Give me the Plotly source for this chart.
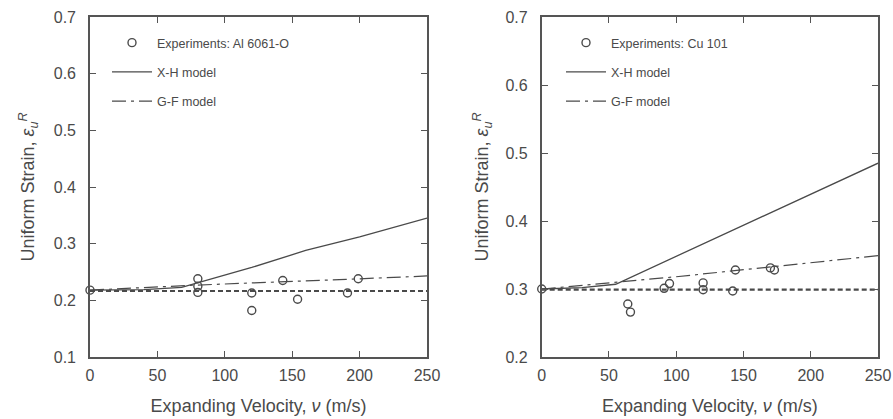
import plotly.graph_objects as go

# ---------------- data ----------------
# Left panel: Al 6061-O
al_exp_v = [0, 80, 80, 80, 120, 120, 143, 154, 191, 199]
al_exp_e = [0.218, 0.238, 0.225, 0.214, 0.213, 0.182, 0.235, 0.202, 0.213, 0.238]
al_xh_v = [0, 40, 68, 80, 120, 160, 200, 250]
al_xh_e = [0.218, 0.219, 0.223, 0.231, 0.258, 0.288, 0.312, 0.345]
al_gf_v = [0, 80, 190, 250]
al_gf_e = [0.218, 0.227, 0.237, 0.243]
al_static_v = [0, 250]
al_static_e = [0.2165, 0.2165]

# Right panel: Cu 101
cu_exp_v = [0, 64, 66, 91, 95, 120, 120, 142, 144, 170, 173]
cu_exp_e = [0.300, 0.278, 0.266, 0.301, 0.308, 0.309, 0.299, 0.297, 0.328, 0.331, 0.328]
cu_xh_v = [0, 30, 55, 100, 160, 250]
cu_xh_e = [0.300, 0.302, 0.307, 0.348, 0.403, 0.485]
cu_gf_v = [0, 100, 250]
cu_gf_e = [0.300, 0.318, 0.349]
cu_static_v = [0, 250]
cu_static_e = [0.299, 0.299]

x_ticks = [0, 50, 100, 150, 200, 250]

INK = "#4a4a4a"
FONT = "Liberation Sans, Arial, sans-serif"

fig = go.Figure()

def add_panel(xa, ya, leg, exp_v, exp_e, exp_name, xh_v, xh_e, gf_v, gf_e, st_v, st_e):
    fig.add_trace(go.Scatter(x=st_v, y=st_e, mode="lines", xaxis=xa, yaxis=ya,
                             line=dict(color=INK, width=2.2, dash="5px,3px"),
                             showlegend=False, hoverinfo="skip"))
    fig.add_trace(go.Scatter(x=gf_v, y=gf_e, mode="lines", xaxis=xa, yaxis=ya,
                             line=dict(color=INK, width=1.2, dash="14px,5px,3px,5px"),
                             name="G-F model", legend=leg, legendgroup=leg + "c",
                             legendrank=3))
    fig.add_trace(go.Scatter(x=xh_v, y=xh_e, mode="lines", xaxis=xa, yaxis=ya,
                             line=dict(color=INK, width=1.3),
                             name="X-H model", legend=leg, legendgroup=leg + "b",
                             legendrank=2))
    fig.add_trace(go.Scatter(x=exp_v, y=exp_e, mode="markers", xaxis=xa, yaxis=ya,
                             marker=dict(symbol="circle-open", size=8, color=INK,
                                         line=dict(width=1.4, color=INK)),
                             cliponaxis=False,
                             name="Experiments: " + exp_name, legend=leg,
                             legendgroup=leg + "a", legendrank=1))

add_panel("x", "y", "legend", al_exp_v, al_exp_e, "Al 6061-O",
          al_xh_v, al_xh_e, al_gf_v, al_gf_e, al_static_v, al_static_e)
add_panel("x2", "y2", "legend2", cu_exp_v, cu_exp_e, "Cu 101",
          cu_xh_v, cu_xh_e, cu_gf_v, cu_gf_e, cu_static_v, cu_static_e)

W, H = 893, 419
ytop = 1 - 17 / H
ybot = 1 - 357 / H

axis_common = dict(
    showgrid=False, zeroline=False, showline=True, linecolor="#555", linewidth=1.6,
    mirror="ticks", ticks="inside", ticklen=6, tickwidth=1.3, tickcolor="#555",
    tickfont=dict(family=FONT, size=16, color=INK), automargin=False,
)

ytitle = "Uniform Strain, <i>ε</i><sub><i>u</i></sub><sup><i>R</i></sup>"
xtitle = "Expanding Velocity, <i>ν</i> (m/s)"
tfont = dict(family=FONT, size=18, color=INK)

fig.update_layout(
    width=W, height=H,
    margin=dict(l=0, r=0, t=0, b=0, autoexpand=False),
    paper_bgcolor="white", plot_bgcolor="white",
    font=dict(family=FONT, color=INK),
    xaxis=dict(domain=[90 / W, 427 / W], range=[0, 250], tickvals=x_ticks,
               anchor="y", ticklabelstandoff=3,
               title=dict(text=xtitle, font=tfont, standoff=16),
               **axis_common),
    yaxis=dict(domain=[ybot, ytop], range=[0.1, 0.7], dtick=0.1, tickformat=".1f",
               anchor="x", ticklabelstandoff=9,
               title=dict(text=ytitle, font=tfont, standoff=14),
               **axis_common),
    xaxis2=dict(domain=[541.7 / W, 878 / W], range=[0, 250], tickvals=x_ticks,
                anchor="y2", ticklabelstandoff=3,
                title=dict(text=xtitle, font=tfont, standoff=16),
                **axis_common),
    yaxis2=dict(domain=[ybot, ytop], range=[0.2, 0.7], dtick=0.1, tickformat=".1f",
                anchor="x2", ticklabelstandoff=9,
                title=dict(text=ytitle, font=tfont, standoff=12),
                **axis_common),
    legend=dict(x=107 / W, y=1 - 28 / H, xanchor="left", yanchor="top",
                bgcolor="rgba(0,0,0,0)", traceorder="grouped", tracegroupgap=10,
                font=dict(family=FONT, size=12.5, color=INK), itemwidth=40),
    legend2=dict(x=561 / W, y=1 - 28 / H, xanchor="left", yanchor="top",
                 bgcolor="rgba(0,0,0,0)", traceorder="grouped", tracegroupgap=10,
                 font=dict(family=FONT, size=12.5, color=INK), itemwidth=40),
)

fig.write_html("out.html")
